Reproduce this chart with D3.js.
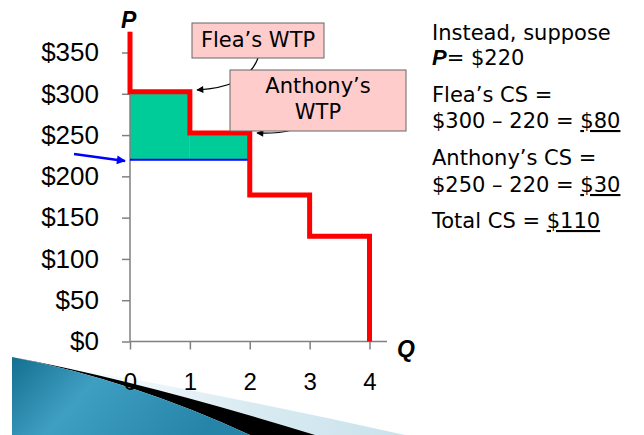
<!DOCTYPE html>
<html>
<head>
<meta charset="utf-8">
<script src="https://cdn.jsdelivr.net/npm/d3@7"></script>
<style>
  body { margin: 0; background: #fff; }
  svg { display: block; }
  .tick text { font-family: "Liberation Sans", Arial, sans-serif; fill: #000; }
  .note { font-family: "DejaVu Sans", sans-serif; font-size: 21px; fill: #000; }
</style>
</head>
<body>
<svg id="chart" width="644" height="435"></svg>
<script>
// price ticks on the y axis ($)
var priceTicks = [0, 50, 100, 150, 200, 250, 300, 350];
// quantity ticks on the x axis
var qtyTicks = [0, 1, 2, 3, 4];
// each buyer's willingness to pay, highest first
var buyers = ["Flea", "Anthony", "Chad", "John"];
var wtp = [300, 250, 175, 125];
// where the demand curve starts at the top
var topPrice = 375;
// market price
var price = 220;

var svg = d3.select("#chart");

var x = d3.scaleLinear().domain([0, 4]).range([130, 369.5]);
var y = d3.scaleLinear().domain([0, 350]).range([341.5, 52.5]);

var defs = svg.append("defs");

// gradients for the slide decoration at the bottom
var gBlue = defs.append("linearGradient").attr("id", "gBlue")
  .attr("x1", "0").attr("y1", "0").attr("x2", "1").attr("y2", "0.3");
gBlue.append("stop").attr("offset", "0%").attr("stop-color", "#146f8f");
gBlue.append("stop").attr("offset", "40%").attr("stop-color", "#3f9fc3");
gBlue.append("stop").attr("offset", "100%").attr("stop-color", "#2584a7");

var gPale = defs.append("linearGradient").attr("id", "gPale")
  .attr("x1", "0").attr("y1", "0").attr("x2", "1").attr("y2", "0");
gPale.append("stop").attr("offset", "0%").attr("stop-color", "#ffffff");
gPale.append("stop").attr("offset", "55%").attr("stop-color", "#d9ebf2");
gPale.append("stop").attr("offset", "100%").attr("stop-color", "#cae2ec");

function arrowMarker(id, color, w, h) {
  defs.append("marker")
    .attr("id", id)
    .attr("viewBox", "0 0 10 10")
    .attr("refX", 9).attr("refY", 5)
    .attr("markerWidth", w).attr("markerHeight", h)
    .attr("markerUnits", "userSpaceOnUse")
    .attr("orient", "auto")
    .append("path")
    .attr("d", "M0,0 L10,5 L0,10 Z")
    .attr("fill", color);
}
arrowMarker("arrBlue", "#0000ff", 12, 9);
arrowMarker("arrBlack", "#000", 8, 7);

// slide decoration
var deco = svg.append("g");
deco.append("path")
  .attr("d", "M60,366 Q230,396 405,435 L300,435 Z")
  .attr("fill", "url(#gPale)");
deco.append("path")
  .attr("d", "M12,357 Q140,381 315,435 L250,435 Q131,380 12,357 Z")
  .attr("fill", "#000");
deco.append("path")
  .attr("d", "M12,357 Q131,380 250,435 L12,435 Z")
  .attr("fill", "url(#gBlue)");

// consumer surplus of each buyer above the price
svg.append("g").selectAll("rect")
  .data(wtp.filter(function (d) { return d > price; }))
  .enter().append("rect")
  .attr("x", function (d, i) { return x(i); })
  .attr("width", function (d, i) { return x(i + 1) - x(i); })
  .attr("y", function (d) { return y(d); })
  .attr("height", function (d) { return y(price) - y(d); })
  .attr("fill", "#00cc99");

// axes
var yAxis = svg.append("g")
  .attr("transform", "translate(" + x(0) + ",0)")
  .call(d3.axisLeft(y).tickValues(priceTicks).tickSize(8).tickPadding(23)
    .tickFormat(function (d) { return "$" + d; }));
yAxis.select(".domain").remove();
yAxis.selectAll(".tick line").attr("stroke", "#808080").attr("stroke-width", 1.5);
yAxis.selectAll(".tick text").attr("font-size", 26);

var xAxis = svg.append("g")
  .attr("transform", "translate(0," + y(0) + ")")
  .call(d3.axisBottom(x).tickValues(qtyTicks).tickSize(8).tickPadding(23)
    .tickFormat(d3.format("d")));
xAxis.select(".domain").remove();
xAxis.selectAll(".tick line").attr("stroke", "#808080").attr("stroke-width", 1.5);
xAxis.selectAll(".tick text").attr("font-size", 24);

svg.append("line")
  .attr("x1", x(0)).attr("x2", x(0))
  .attr("y1", y(topPrice)).attr("y2", y(0))
  .attr("stroke", "#808080").attr("stroke-width", 1.5);
svg.append("line")
  .attr("x1", x(0)).attr("x2", 387)
  .attr("y1", y(0)).attr("y2", y(0))
  .attr("stroke", "#808080").attr("stroke-width", 1.5);

svg.append("text").text("P")
  .attr("x", 121).attr("y", 28)
  .attr("font-family", "Liberation Sans, Arial, sans-serif")
  .attr("font-size", 23).attr("font-weight", "bold").attr("font-style", "italic");
svg.append("text").text("Q")
  .attr("x", 397).attr("y", 357)
  .attr("font-family", "Liberation Sans, Arial, sans-serif")
  .attr("font-size", 23).attr("font-weight", "bold").attr("font-style", "italic");

// price line
svg.append("line")
  .attr("x1", x(0)).attr("x2", x(2))
  .attr("y1", y(price)).attr("y2", y(price))
  .attr("stroke", "#0000ff").attr("stroke-width", 2);

// demand (willingness to pay) step curve
var steps = [[0, topPrice]];
wtp.forEach(function (p, i) {
  steps.push([i, p]);
  steps.push([i + 1, p]);
});
steps.push([wtp.length, 0]);

var line = d3.line()
  .x(function (d) { return x(d[0]); })
  .y(function (d) { return y(d[1]) - (d[1] > 0 && d[1] < topPrice ? 2 : 0); });

svg.append("path")
  .datum(steps)
  .attr("d", line)
  .attr("fill", "none")
  .attr("stroke", "#ff0000")
  .attr("stroke-width", 5)
  .attr("stroke-linejoin", "miter")
  .attr("stroke-linecap", "butt");

// blue arrow pointing at the price
svg.append("line")
  .attr("x1", 74).attr("y1", 154)
  .attr("x2", 125).attr("y2", 161)
  .attr("stroke", "#0000ff").attr("stroke-width", 2.5)
  .attr("marker-end", "url(#arrBlue)");

// callouts
svg.append("path")
  .attr("d", "M258,58 C250,80 228,88 197,90")
  .attr("fill", "none").attr("stroke", "#000").attr("stroke-width", 1.2)
  .attr("marker-end", "url(#arrBlack)");

svg.append("rect")
  .attr("x", 192).attr("y", 23).attr("width", 132).attr("height", 35)
  .attr("fill", "#ffcccc").attr("stroke", "#666").attr("stroke-width", 1);
svg.append("text").attr("class", "note")
  .attr("x", 258).attr("y", 47).attr("text-anchor", "middle")
  .text(buyers[0] + "’s WTP");

svg.append("path")
  .attr("d", "M292,130 Q276,134 257,133")
  .attr("fill", "none").attr("stroke", "#000").attr("stroke-width", 1.2)
  .attr("marker-end", "url(#arrBlack)");

svg.append("rect")
  .attr("x", 230).attr("y", 70).attr("width", 176).attr("height", 61)
  .attr("fill", "#ffcccc").attr("stroke", "#666").attr("stroke-width", 1);
svg.append("text").attr("class", "note")
  .attr("x", 318).attr("y", 93).attr("text-anchor", "middle")
  .text(buyers[1] + "’s");
svg.append("text").attr("class", "note")
  .attr("x", 318).attr("y", 119).attr("text-anchor", "middle")
  .text("WTP");

// explanation on the right
var tx = 432;
var cs0 = wtp[0] - price, cs1 = wtp[1] - price;

svg.append("text").attr("class", "note").attr("x", tx).attr("y", 40)
  .text("Instead, suppose");
var pl = svg.append("text").attr("class", "note").attr("x", tx).attr("y", 65);
pl.append("tspan").text("P")
  .attr("font-family", "Liberation Sans, Arial, sans-serif")
  .attr("font-weight", "bold").attr("font-style", "italic").attr("font-size", 22);
pl.append("tspan").text("= $" + price);

svg.append("text").attr("class", "note").attr("x", tx).attr("y", 102)
  .text(buyers[0] + "’s CS =");
var l1 = svg.append("text").attr("class", "note").attr("x", tx).attr("y", 128);
l1.append("tspan").text("$" + wtp[0] + " – " + price + " = ");
l1.append("tspan").text("$" + cs0).attr("text-decoration", "underline");

svg.append("text").attr("class", "note").attr("x", tx).attr("y", 165)
  .text(buyers[1] + "’s CS =");
var l2 = svg.append("text").attr("class", "note").attr("x", tx).attr("y", 192)
l2.append("tspan").text("$" + wtp[1] + " – " + price + " = ");
l2.append("tspan").text("$" + cs1).attr("text-decoration", "underline");

var l3 = svg.append("text").attr("class", "note").attr("x", tx).attr("y", 228);
l3.append("tspan").text("Total CS = ");
l3.append("tspan").text("$" + (cs0 + cs1)).attr("text-decoration", "underline");
</script>
</body>
</html>
